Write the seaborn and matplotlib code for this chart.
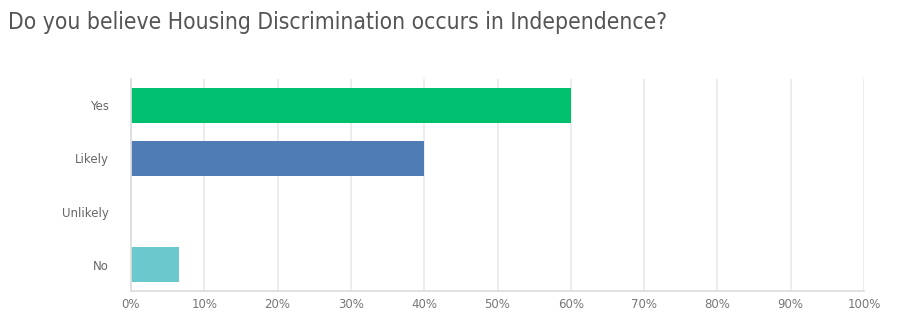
import matplotlib
matplotlib.use("Agg")
import matplotlib.pyplot as plt
import seaborn as sns
import pandas as pd
from matplotlib.ticker import FixedLocator

categories = ["Yes", "Likely", "Unlikely", "No"]
values = [60.0, 40.0, 0.0, 6.5]
colors = ["#00BF6F", "#507CB6", "#F4A261", "#6BC8CD"]
tick_values = [0, 10, 20, 30, 40, 50, 60, 70, 80, 90, 100]
tick_labels = [f"{v}%" for v in tick_values]
title = "Do you believe Housing Discrimination occurs in Independence?"

sns.set_theme(style="white")
plt.rcParams['font.family'] = ['DejaVu Sans']

df = pd.DataFrame({"answer": categories, "pct": values})

fig = plt.figure(figsize=(9.01, 3.28), dpi=100)
ax = fig.add_axes([131/901, 1-291/328, (864-131)/901, (291-79)/328])

sns.barplot(data=df, y="answer", x="pct", hue="answer", palette=colors,
            order=categories, hue_order=categories, legend=False,
            width=0.66, saturation=1, linewidth=0, ax=ax, orient="h")

ax.set_xlim(0, 100)
ax.set_ylim(3.5, -0.5)
ax.xaxis.set_major_locator(FixedLocator(tick_values))
ax.set_xticklabels(tick_labels)
ax.set_xlabel("")
ax.set_ylabel("")
ax.grid(axis="x", color="#e9e9e9", linewidth=1.2)
ax.set_axisbelow(True)
for s in ["top", "right"]:
    ax.spines[s].set_visible(False)
ax.spines["left"].set_color("#dddddd")
ax.spines["bottom"].set_color("#dddddd")
ax.tick_params(axis="x", length=0, pad=5, labelsize=8.5, labelcolor="#777777")
ax.tick_params(axis="y", length=0, pad=16, labelsize=8.5, labelcolor="#666666")

t = fig.text(8/901, 1-22/328, title, fontsize=24, color="#555555",
             family=["DejaVu Sans"], fontstretch="condensed", fontweight="light",
             va="center", ha="left")
fig.canvas.draw()
w = t.get_window_extent().width
t.set_fontsize(24 * 660 / w)

fig.savefig("out.png", dpi=100, facecolor="white")
